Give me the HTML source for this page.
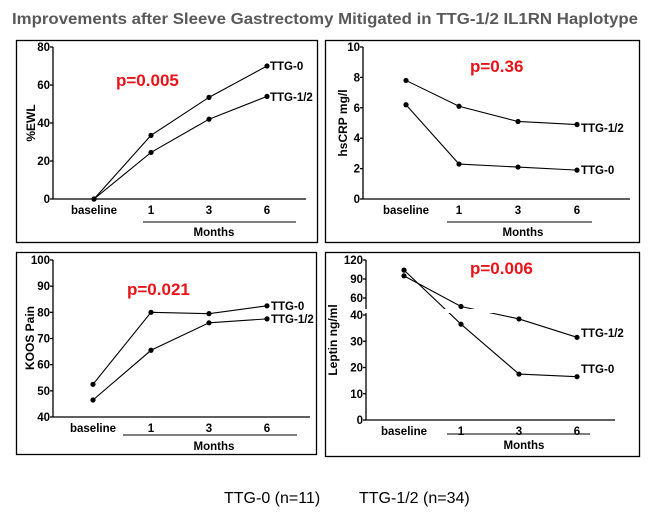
<!DOCTYPE html>
<html><head><meta charset="utf-8"><style>
body{margin:0;background:#fff;width:655px;height:521px;overflow:hidden}
svg{display:block}
text{font-family:"Liberation Sans",Arial,sans-serif}
.t{font-size:11.5px;font-weight:bold;fill:#000}
.p{font-size:17px;font-weight:bold;fill:#e8141b}
.s{font-size:12px;font-weight:bold;fill:#000}
</style></head><body>
<svg id="c" width="655" height="521">
<text x="12" y="24" style="font-size:15.5px;font-weight:bold;fill:#595959" textLength="626" lengthAdjust="spacingAndGlyphs">Improvements after Sleeve Gastrectomy Mitigated in TTG-1/2  IL1RN Haplotype</text>
<text x="224" y="503" style="font-size:16px">TTG-0 (n=11)</text>
<text x="359" y="503" style="font-size:16px">TTG-1/2 (n=34)</text>
</svg>
<script>
const categories=["baseline","1","3","6"];
const ewlTTG0=[0,33.5,53.5,70];
const ewlTTG12=[0,24.5,42,54];
const ewlTicks=[0,20,40,60,80];
const crpTTG0=[6.2,2.3,2.1,1.9];
const crpTTG12=[7.8,6.1,5.1,4.9];
const crpTicks=[0,2,4,6,8,10];
const koosTTG0=[52.5,80,79.5,82.5];
const koosTTG12=[46.5,65.5,76,77.5];
const koosTicks=[40,50,60,70,80,90,100];
const leptinTTG0=[104,36.5,17.5,16.5];
const leptinTTG12=[95,50,38.5,31.5];
const leptinTicks=[0,10,20,30,40,60,90,120];
const pValues=["p=0.005","p=0.36","p=0.021","p=0.006"];

const NS="http://www.w3.org/2000/svg";
const svg=document.getElementById('c');
function mk(tag,attrs,parent,txt){const e=document.createElementNS(NS,tag);for(const k in attrs)e.setAttribute(k,attrs[k]);if(txt!==undefined)e.textContent=txt;(parent||svg).appendChild(e);return e;}

const panels=[
 {box:[16,40,301,202],ax:53,axEnd:306,y0:199,xs:[94,151,209,267],sc:v=>199-v*(152/80),ticks:ewlTicks,s0:ewlTTG0,s1:ewlTTG12,yl:"%EWL",ylx:35,yly:123,p:[116,86],l0:[270,70],l1:[270,101],mo:[143,296,222,236],name:"ewl"},
 {box:[325,40,314,202],ax:363,axEnd:630,y0:199,xs:[406,459,518,577],sc:v=>199-v*15.2,ticks:crpTicks,s0:crpTTG0,s1:crpTTG12,yl:"hsCRP mg/l",ylx:347,yly:123,p:[470,72],l0:[581,174],l1:[581,132],mo:[447,592,222,236],name:"hscrp"},
 {box:[16,252,300,202],ax:53,axEnd:310,y0:417,xs:[93,151,209,267],sc:v=>417-(v-40)*(157/60),ticks:koosTicks,s0:koosTTG0,s1:koosTTG12,yl:"KOOS Pain",ylx:34,yly:338,p:[127,295],l0:[271,310],l1:[271,323],mo:[123,297,435,450],name:"koos"},
 {box:[325,252,314,204],ax:366,axEnd:615,y0:420,xs:[404,461,519,577],sc:v=>v<=40?420-v*2.625:(v<=60?315-(v-40)*0.85:298-(v-60)*(38/60)),ticks:leptinTicks,s0:leptinTTG0,s1:leptinTTG12,yl:"Leptin ng/ml",ylx:337,yly:340,p:[470,274],l0:[581,373],l1:[581,337],mo:[447,590,434,449],name:"leptin",brk:true}
];
panels.forEach((P,i)=>{
 const g=mk('g',{});
 
 
 const b=mk('rect',{x:P.box[0]+0.5,y:P.box[1]+0.5,width:P.box[2],height:P.box[3],fill:'none',stroke:'#000','stroke-width':1.3},g);
 
 
 const top=P.sc(P.ticks[P.ticks.length-1]);
 const ya=mk('line',{x1:P.ax,y1:top,x2:P.ax,y2:P.y0,stroke:'#000','stroke-width':1.3},g);
 
 
 const xa=mk('line',{x1:P.ax,y1:P.y0,x2:P.axEnd,y2:P.y0,stroke:'#000','stroke-width':1.3},g);
 
 
 P.ticks.forEach(t=>{const y=P.sc(t);
  mk('line',{x1:P.ax-3,y1:y,x2:P.ax,y2:y,stroke:'#000','stroke-width':1.3},g);
  const tl=mk('text',{x:P.ax-3,y:y+4,'text-anchor':'end',class:'t'},g,String(t));
  
  
 });
 categories.forEach((c,j)=>{
  const tl=mk('text',{x:P.xs[j],y:P.y0+15,'text-anchor':'middle',class:'t'},g,c);
  
  
 });
 mk('line',{x1:P.mo[0],y1:P.mo[2],x2:P.mo[1],y2:P.mo[2],stroke:'#000','stroke-width':1},g);
 const mt=mk('text',{x:(P.xs[1]+P.xs[3])/2+5,y:P.mo[3],'text-anchor':'middle',class:'t'},g,'Months');
 
 
 const yl=mk('text',{x:0,y:0,'text-anchor':'middle',class:'s',transform:`translate(${P.ylx},${P.yly}) rotate(-90)`},g,P.yl);
 
 
 [P.s0,P.s1].forEach((s,k)=>{
  const pts=s.map((v,j)=>P.xs[j]+','+P.sc(v)).join(' ');
  const pl=mk('polyline',{points:pts,fill:'none',stroke:'#000','stroke-width':1.1},g);
  
  
  s.forEach((v,j)=>{const c=mk('circle',{cx:P.xs[j],cy:P.sc(v),r:2.6,fill:'#000'},g);
   
   });
 });
 if(P.brk){
  mk('rect',{x:P.ax-4,y:309,width:P.axEnd-P.ax,height:4,fill:'#fff'},g);
 }
 const pt=mk('text',{x:P.p[0],y:P.p[1],class:'p'},g,pValues[i]);
 
 
 const a=mk('text',{x:P.l0[0],y:P.l0[1],class:'t'},g,'TTG-0');
 
 
 const bb=mk('text',{x:P.l1[0],y:P.l1[1],class:'t'},g,'TTG-1/2');
 
 
});
</script>
</body></html>
